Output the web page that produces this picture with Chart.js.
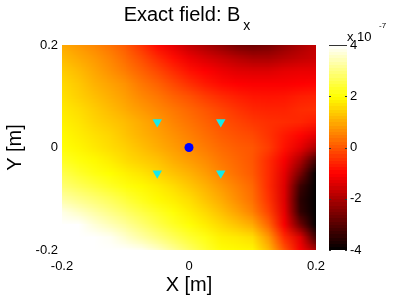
<!DOCTYPE html>
<html>
<head>
<meta charset="utf-8">
<script src="https://cdn.jsdelivr.net/npm/chart.js@4/dist/chart.umd.min.js"></script>
<style>
  html, body { margin: 0; padding: 0; background: #fff; }
  canvas { display: block; }
</style>
</head>
<body>
<canvas id="bxChart" width="399" height="301"></canvas>
<script>
// grid of sample positions [m]
var xValues = [-0.2, -0.175, -0.15, -0.125, -0.1, -0.075, -0.05, -0.025, 0, 0.025, 0.05, 0.075, 0.1, 0.125, 0.15, 0.175, 0.2];
var yValues = [0.2, 0.175, 0.15, 0.125, 0.1, 0.075, 0.05, 0.025, 0, -0.025, -0.05, -0.075, -0.1, -0.125, -0.15, -0.175, -0.2];

// Bx, units of 1e-7, one row per y (top to bottom)
var bxField = [
    [1.0, 0.8, 0.6, 0.35, 0.05, -0.4, -0.9, -1.3, -1.7, -2.0, -2.3, -2.6, -2.7, -2.6, -2.3, -2.0, -1.7],
    [1.2, 1.0, 0.8, 0.55, 0.25, -0.1, -0.5, -0.85, -1.2, -1.45, -1.65, -1.85, -2.0, -2.0, -1.85, -1.7, -1.6],
    [1.4, 1.2, 0.95, 0.7, 0.45, 0.15, -0.15, -0.5, -0.8, -1.0, -1.2, -1.35, -1.4, -1.4, -1.3, -1.25, -1.25],
    [1.55, 1.35, 1.1, 0.9, 0.7, 0.4, 0.15, -0.15, -0.45, -0.7, -0.9, -1.0, -1.05, -1.05, -1.05, -1.0, -0.95],
    [1.65, 1.45, 1.25, 1.05, 0.85, 0.6, 0.4, 0.15, -0.05, -0.3, -0.5, -0.65, -0.75, -0.78, -0.75, -0.65, -0.6],
    [1.75, 1.6, 1.4, 1.2, 1.0, 0.8, 0.6, 0.4, 0.2, 0.0, -0.2, -0.4, -0.55, -0.6, -0.6, -0.5, -0.45],
    [1.85, 1.7, 1.5, 1.35, 1.2, 1.0, 0.8, 0.55, 0.35, 0.15, -0.05, -0.2, -0.35, -0.45, -0.5, -0.55, -0.7],
    [1.95, 1.8, 1.65, 1.5, 1.3, 1.1, 0.9, 0.7, 0.5, 0.3, 0.1, -0.05, -0.15, -0.4, -0.7, -0.95, -1.3],
    [2.05, 1.9, 1.75, 1.6, 1.45, 1.25, 1.05, 0.85, 0.65, 0.45, 0.25, 0.1, 0.0, -0.3, -0.8, -1.3, -2.0],
    [2.3, 2.1, 1.95, 1.8, 1.6, 1.45, 1.3, 1.05, 0.85, 0.65, 0.4, 0.2, 0.0, -0.5, -1.1, -2.0, -3.3],
    [2.6, 2.35, 2.15, 2.0, 1.85, 1.7, 1.5, 1.3, 1.1, 0.85, 0.55, 0.3, 0.05, -0.5, -1.3, -2.6, -4.2],
    [2.9, 2.7, 2.5, 2.3, 2.1, 1.95, 1.8, 1.6, 1.35, 1.1, 0.8, 0.5, 0.2, -0.5, -1.4, -3.3, -4.5],
    [3.3, 3.1, 2.9, 2.7, 2.45, 2.2, 1.95, 1.8, 1.6, 1.3, 1.0, 0.65, 0.3, -0.4, -1.4, -3.5, -4.5],
    [3.8, 3.55, 3.3, 3.05, 2.8, 2.55, 2.3, 2.05, 1.8, 1.55, 1.25, 0.9, 0.5, -0.2, -1.3, -3.4, -4.5],
    [4.3, 4.0, 3.7, 3.45, 3.2, 2.9, 2.6, 2.3, 2.05, 1.8, 1.55, 1.3, 1.0, 0.2, -1.1, -2.7, -4.3],
    [4.6, 4.4, 4.2, 3.9, 3.6, 3.3, 3.0, 2.7, 2.4, 2.15, 1.85, 1.75, 1.6, 0.8, -0.5, -1.4, -3.3],
    [4.8, 4.6, 4.4, 4.2, 4.1, 3.9, 3.6, 3.2, 2.8, 2.4, 2.05, 1.95, 1.9, 1.2, 0.0, -1.1, -2.0]
];

// sensors (cyan triangles) and source (blue dot)
var sensorX = [-0.05, 0.05, -0.05, 0.05];
var sensorY = [0.05, 0.05, -0.05, -0.05];
var sourceX = [0];
var sourceY = [0];

// tick labels
var xTicks = [-0.2, 0, 0.2];
var yTicks = [-0.2, 0, 0.2];
var cbarTicks = [-4, -2, 0, 2, 4];
var cbarMin = -4, cbarMax = 4;

var FONT = "'Liberation Sans', Arial, Helvetica, sans-serif";

// matlab "hot" colormap
function hot(v) {
    var t = (v - cbarMin) / (cbarMax - cbarMin);
    t = Math.max(0, Math.min(1, t));
    var r = Math.min(1, t / 0.375);
    var g = Math.max(0, Math.min(1, (t - 0.375) / 0.375));
    var b = Math.max(0, Math.min(1, (t - 0.75) / 0.25));
    return [Math.round(r * 255), Math.round(g * 255), Math.round(b * 255)];
}

function fmt(v) {
    if (Math.abs(v) < 1e-9) return '0';
    return String(Math.round(v * 10) / 10);
}

var heatmap = {
    id: 'heatmap',
    beforeDatasetsDraw: function(chart) {
        var ctx = chart.ctx, area = chart.chartArea;
        var xs = chart.scales.x, ys = chart.scales.y;
        var nx = xValues.length, ny = yValues.length;
        var off = document.createElement('canvas');
        off.width = nx;
        off.height = ny;
        var octx = off.getContext('2d');
        var img = octx.createImageData(nx, ny);
        for (var j = 0; j < ny; j++) {
            for (var i = 0; i < nx; i++) {
                var c = hot(bxField[j][i]);
                var k = (j * nx + i) * 4;
                img.data[k] = c[0];
                img.data[k + 1] = c[1];
                img.data[k + 2] = c[2];
                img.data[k + 3] = 255;
            }
        }
        octx.putImageData(img, 0, 0);
        var hx = (xValues[1] - xValues[0]) / 2;
        var hy = (yValues[0] - yValues[1]) / 2;
        var left = xs.getPixelForValue(xValues[0] - hx);
        var right = xs.getPixelForValue(xValues[nx - 1] + hx);
        var top = ys.getPixelForValue(yValues[0] + hy);
        var bottom = ys.getPixelForValue(yValues[ny - 1] - hy);
        ctx.save();
        ctx.beginPath();
        ctx.rect(area.left, area.top, area.right - area.left, area.bottom - area.top);
        ctx.clip();
        ctx.imageSmoothingEnabled = true;
        ctx.drawImage(off, left, top, right - left, bottom - top);
        ctx.restore();
    }
};

var decorations = {
    id: 'decorations',
    afterDraw: function(chart) {
        var ctx = chart.ctx, area = chart.chartArea;
        var cb = chart.scales.yc;
        // colorbar
        var cbLeft = area.right + 13, cbW = 18;
        var steps = 64;
        for (var s = 0; s < steps; s++) {
            var v0 = cbarMin + (cbarMax - cbarMin) * s / steps;
            var v1 = cbarMin + (cbarMax - cbarMin) * (s + 1) / steps;
            var c = hot((v0 + v1) / 2);
            var p0 = cb.getPixelForValue(v0), p1 = cb.getPixelForValue(v1);
            ctx.fillStyle = 'rgb(' + c[0] + ',' + c[1] + ',' + c[2] + ')';
            ctx.fillRect(cbLeft, Math.floor(p1), cbW, Math.ceil(p0) - Math.floor(p1));
        }
        ctx.strokeStyle = '#333';
        ctx.lineWidth = 1;
        ctx.beginPath();
        ctx.moveTo(cbLeft, Math.round(cb.top) + 0.5);
        ctx.lineTo(cbLeft + cbW, Math.round(cb.top) + 0.5);
        cbarTicks.forEach(function(t) {
            var py = Math.round(cb.getPixelForValue(t)) + 0.5;
            ctx.moveTo(cbLeft, py); ctx.lineTo(cbLeft + 2, py);
            ctx.moveTo(cbLeft + cbW, py); ctx.lineTo(cbLeft + cbW - 2, py);
        });
        ctx.stroke();

        ctx.fillStyle = '#000';
        ctx.textBaseline = 'alphabetic';
        ctx.textAlign = 'left';
        ctx.font = '13px ' + FONT;
        ctx.fillText('x 10', cbLeft + 18, 41);
        ctx.font = '8px ' + FONT;
        ctx.fillText('-7', cbLeft + 50, 28);

        // title with subscript
        var main = 'Exact field: B';
        ctx.font = '20px ' + FONT;
        var w1 = ctx.measureText(main).width;
        ctx.font = '14px ' + FONT;
        var w2 = ctx.measureText('x').width;
        var x0 = (area.left + area.right) / 2 - (w1 + 3 + w2) / 2 - 2;
        ctx.font = '20px ' + FONT;
        ctx.fillText(main, x0, 21);
        ctx.font = '14px ' + FONT;
        ctx.fillText('x', x0 + w1 + 3, 30);
    }
};

new Chart(document.getElementById('bxChart'), {
    type: 'scatter',
    data: {
        datasets: [{
            label: 'sensors',
            data: sensorX.map(function(x, i) { return {x: x, y: sensorY[i]}; }),
            pointStyle: 'triangle',
            rotation: 180,
            pointRadius: 5.5,
            backgroundColor: '#14eaea',
            borderWidth: 0
        }, {
            label: 'source',
            data: sourceX.map(function(x, i) { return {x: x, y: sourceY[i]}; }),
            pointStyle: 'circle',
            pointRadius: 4.5,
            backgroundColor: '#0000ff',
            borderWidth: 0
        }]
    },
    options: {
        responsive: false,
        devicePixelRatio: 1,
        animation: false,
        layout: { padding: { top: 45, left: 0, right: 0, bottom: 0 } },
        plugins: { legend: { display: false }, tooltip: { enabled: false } },
        scales: {
            x: {
                type: 'linear', position: 'bottom', min: -0.2, max: 0.2,
                grid: { display: false, drawTicks: false }, border: { display: false },
                afterBuildTicks: function(s) { s.ticks = xTicks.map(function(v) { return {value: v}; }); },
                afterFit: function(s) { s.height = 51; },
                ticks: { callback: fmt, color: '#000', padding: 9, maxRotation: 0, font: { family: FONT, size: 13 } },
                title: { display: true, text: 'X [m]', color: '#000', font: { family: FONT, size: 20 }, padding: { top: 0, bottom: 4 } }
            },
            y: {
                type: 'linear', position: 'left', min: -0.2, max: 0.2,
                grid: { display: false, drawTicks: false }, border: { display: false },
                afterBuildTicks: function(s) { s.ticks = yTicks.map(function(v) { return {value: v}; }); },
                afterFit: function(s) { s.width = 62; },
                ticks: { callback: fmt, color: '#000', padding: 4, font: { family: FONT, size: 13 } },
                title: { display: true, text: 'Y [m]', color: '#000', font: { family: FONT, size: 20 }, padding: { top: 3, bottom: 0 } }
            },
            yc: {
                type: 'linear', position: 'right', min: cbarMin, max: cbarMax,
                grid: { display: false, drawTicks: false }, border: { display: false },
                afterBuildTicks: function(s) { s.ticks = cbarTicks.map(function(v) { return {value: v}; }); },
                afterFit: function(s) { s.width = 83; },
                ticks: { callback: fmt, color: '#000', padding: 34, font: { family: FONT, size: 13 } }
            }
        }
    },
    plugins: [heatmap, decorations]
});
</script>
</body>
</html>
